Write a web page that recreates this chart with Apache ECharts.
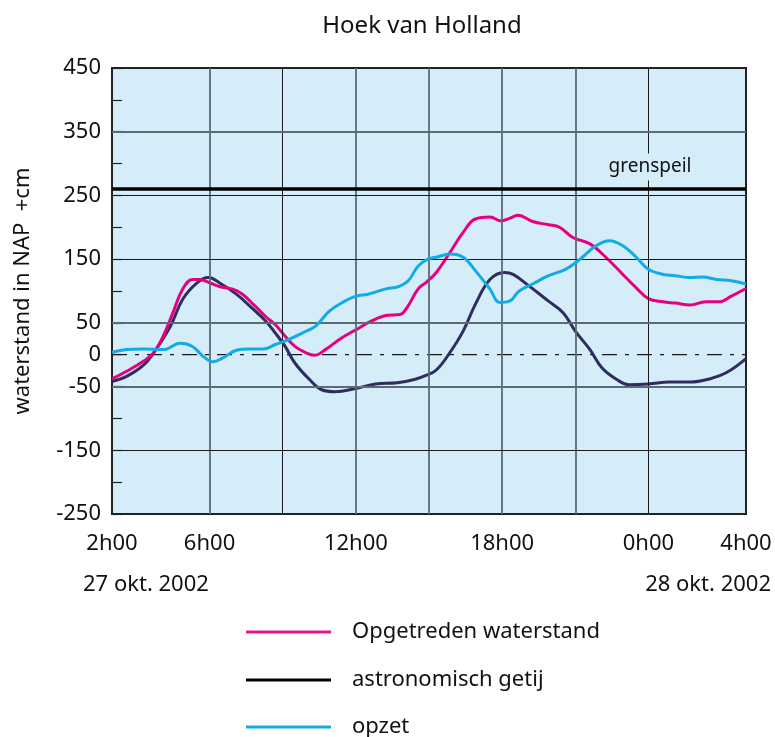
<!DOCTYPE html>
<html>
<head>
<meta charset="utf-8">
<title>Hoek van Holland</title>
<script src="https://cdn.jsdelivr.net/npm/echarts@6/dist/echarts.min.js"></script>
<style>
  html, body { margin: 0; padding: 0; background: #fff; }
  #chart { width: 775px; height: 737px; }
</style>
</head>
<body>
<div id="chart"></div>
<script>
// tijd in uren vanaf 27 okt 0h00 (2 = 2h00, 24 = 0h00, 28 = 4h00)
var obsHours = [2.0, 2.6, 3.3, 3.7, 4.1, 4.5, 4.9, 5.3, 5.6, 6.0, 6.4, 6.95, 7.35, 7.8, 8.3, 8.7, 9.1, 9.5, 9.9, 10.3, 10.75, 11.4, 12.0, 12.65, 13.3, 13.8, 14.1, 14.55, 14.9, 15.3, 15.85, 16.4, 16.9, 17.5, 17.95, 18.3, 18.65, 19.25, 19.9, 20.35, 20.9, 21.6, 22.25, 22.95, 23.5, 24.0, 24.6, 25.1, 25.7, 26.35, 26.9, 27.4, 28.0];
var obsValues = [-38, -26, -10, 3, 29, 66, 103, 118, 118, 113, 107, 103, 95, 79, 60, 47, 29, 13, 4, -1, 8, 26, 39, 53, 62, 63, 74, 103, 114, 129, 160, 192, 213, 216, 210, 214, 219, 209, 204, 200, 184, 174, 153, 126, 105, 88, 83, 81, 78, 83, 83, 92, 104];

var astroHours = [2.0, 2.6, 3.3, 3.8, 4.4, 4.9, 5.5, 5.95, 6.4, 7.1, 7.8, 8.3, 8.7, 9.1, 9.5, 10.1, 10.6, 11.15, 12.0, 12.8, 13.7, 14.4, 14.85, 15.3, 15.85, 16.4, 16.9, 17.5, 18.1, 18.45, 19.1, 19.9, 20.5, 21.0, 21.6, 22.1, 22.7, 23.2, 24.0, 24.85, 25.7, 26.5, 27.2, 28.0];
var astroValues = [-42, -34, -16, 8, 45, 87, 113, 121, 113, 95, 71, 53, 34, 13, -13, -39, -55, -58, -53, -46, -44, -39, -33, -24, 3, 37, 79, 118, 129, 126, 108, 84, 66, 37, 8, -21, -39, -47, -46, -43, -43, -38, -28, -6];

var surgeHours = [2.0, 2.6, 3.3, 4.1, 4.8, 5.3, 5.75, 6.15, 6.55, 7.1, 7.6, 8.2, 8.7, 9.25, 9.8, 10.35, 10.9, 11.45, 12.0, 12.5, 13.2, 13.75, 14.15, 14.55, 14.95, 15.3, 15.85, 16.4, 16.9, 17.5, 17.9, 18.3, 18.7, 19.25, 19.9, 20.6, 21.2, 21.85, 22.4, 22.95, 23.5, 24.0, 24.6, 25.1, 25.7, 26.2, 26.8, 27.4, 28.0];
var surgeValues = [4, 8, 9, 8, 18, 13, -3, -11, -5, 7, 9, 9, 16, 24, 34, 45, 68, 82, 92, 95, 103, 107, 116, 139, 150, 153, 158, 153, 132, 103, 82, 84, 100, 111, 124, 134, 150, 171, 179, 171, 153, 134, 126, 124, 121, 122, 118, 116, 111];

var xLabelHours = [2, 6, 12, 18, 24, 28];
var vGridHours = [6, 9, 12, 15, 18, 21, 24];
var hGridValues = [350, 250, 150, 50, -50, -150];
var zeroLine = [[2, 0], [28, 0]];
var grenspeil = 260;

var seriesNames = ["Opgetreden waterstand", "astronomisch getij", "opzet"];
var lineColors = ["#e6007e", "#2f2d5e", "#11abe6"];
var legendColors = ["#e8168b", "#000000", "#11abe6"];

function zip(xs, ys) {
  return xs.map(function(x, i) { return [x, ys[i]]; });
}

var font = "Noto Sans";
var grey = "#5d6a72";
var black = "#1a1a1a";

(function() {
  var myChart = echarts.init(document.getElementById("chart"));

  var gridLines = [];
  vGridHours.forEach(function(h) {
    var dark = (h === 9 || h === 24);
    gridLines.push({
      xAxis: h,
      lineStyle: { color: dark ? black : grey, width: dark ? 1 : 1.8, type: "solid" }
    });
  });
  hGridValues.forEach(function(v) {
    var dark = (v === 250 || v === 150 || v === -150);
    gridLines.push({
      yAxis: v,
      lineStyle: { color: dark ? black : grey, width: dark ? 1.2 : 1.8, type: "solid" }
    });
  });
  gridLines.push({ yAxis: grenspeil, lineStyle: { color: "#000", width: 3.5, type: "solid" } });

  // één legenda per regel, onder elkaar
  var legendTops = [619, 667, 714];
  var legends = seriesNames.map(function(name, i) {
    return {
      orient: "vertical",
      left: 246,
      top: legendTops[i],
      padding: 0,
      icon: "rect",
      itemWidth: 85,
      itemHeight: 3,
      selectedMode: false,
      textStyle: {
        fontFamily: font,
        fontSize: 22,
        color: "#111",
        lineHeight: 26,
        padding: [0, 0, 0, 16]
      },
      data: [{ name: name, itemStyle: { color: legendColors[i] } }]
    };
  });

  var option = {
    animation: false,
    textStyle: { fontFamily: font },
    grid: {
      left: 112,
      right: 29,
      top: 68,
      bottom: 223,
      containLabel: false,
      outerBoundsMode: "none",
      show: true,
      backgroundColor: "#d4edf9",
      borderColor: "#222",
      borderWidth: 2
    },
    legend: legends,
    xAxis: {
      type: "value",
      min: 2,
      max: 28,
      interval: 1,
      axisLine: { show: true, onZero: false, lineStyle: { color: "#222", width: 2 } },
      axisTick: { show: false },
      splitLine: { show: false },
      axisLabel: {
        fontFamily: font,
        fontSize: 22,
        color: "#111",
        margin: 19,
        formatter: function(v) {
          return xLabelHours.indexOf(v) >= 0 ? (v % 24) + "h00" : "";
        }
      }
    },
    yAxis: {
      type: "value",
      min: -250,
      max: 450,
      interval: 50,
      name: "waterstand in NAP  +cm",
      nameLocation: "middle",
      nameGap: 78,
      nameTextStyle: { fontFamily: font, fontSize: 22, color: "#111" },
      axisLine: { show: true, onZero: false, lineStyle: { color: "#222", width: 2 } },
      axisTick: { show: true, inside: true, length: 10, lineStyle: { color: "#222", width: 1.2 } },
      splitLine: { show: false },
      axisLabel: {
        fontFamily: font,
        fontSize: 22,
        color: "#111",
        margin: 11,
        formatter: function(v) {
          return (v === 0 || Math.abs(v) % 100 === 50) ? String(v) : "";
        }
      }
    },
    graphic: [
      {
        type: "text",
        x: 422,
        y: 26,
        style: { text: "Hoek van Holland", font: "24px '" + font + "'", fill: "#111", align: "center", verticalAlign: "middle" }
      },
      {
        type: "text",
        x: 83,
        y: 585,
        style: { text: "27 okt. 2002", font: "22px '" + font + "'", fill: "#111", align: "left", verticalAlign: "middle" }
      },
      {
        type: "text",
        x: 771,
        y: 585,
        style: { text: "28 okt. 2002", font: "22px '" + font + "'", fill: "#111", align: "right", verticalAlign: "middle" }
      },
      {
        type: "text",
        x: 650,
        y: 167,
        z: 100,
        style: {
          text: "grenspeil",
          font: "19px '" + font + "'",
          fill: "#111",
          align: "center",
          verticalAlign: "middle",
          backgroundColor: "#d4edf9",
          padding: [4, 2, 4, 2]
        }
      }
    ],
    series: [
      {
        name: "raster",
        type: "line",
        data: [],
        z: 1,
        silent: true,
        markLine: {
          silent: true,
          symbol: ["none", "none"],
          label: { show: false },
          data: gridLines
        }
      },
      {
        name: "nul",
        type: "line",
        data: zeroLine,
        z: 2,
        silent: true,
        showSymbol: false,
        lineStyle: { color: black, width: 1.3, type: [15, 8, 4, 8] }
      },
      {
        name: seriesNames[1],
        type: "line",
        smooth: 0.4,
        showSymbol: false,
        color: lineColors[1],
        lineStyle: { width: 3, color: lineColors[1] },
        data: zip(astroHours, astroValues),
        z: 3
      },
      {
        name: seriesNames[0],
        type: "line",
        smooth: 0.4,
        showSymbol: false,
        color: lineColors[0],
        lineStyle: { width: 3, color: lineColors[0] },
        data: zip(obsHours, obsValues),
        z: 4
      },
      {
        name: seriesNames[2],
        type: "line",
        smooth: 0.4,
        showSymbol: false,
        color: lineColors[2],
        lineStyle: { width: 3, color: lineColors[2] },
        data: zip(surgeHours, surgeValues),
        z: 5
      }
    ]
  };

  myChart.setOption(option);
  window.addEventListener("resize", function() {
    myChart.resize();
  });
})();
</script>
</body>
</html>
